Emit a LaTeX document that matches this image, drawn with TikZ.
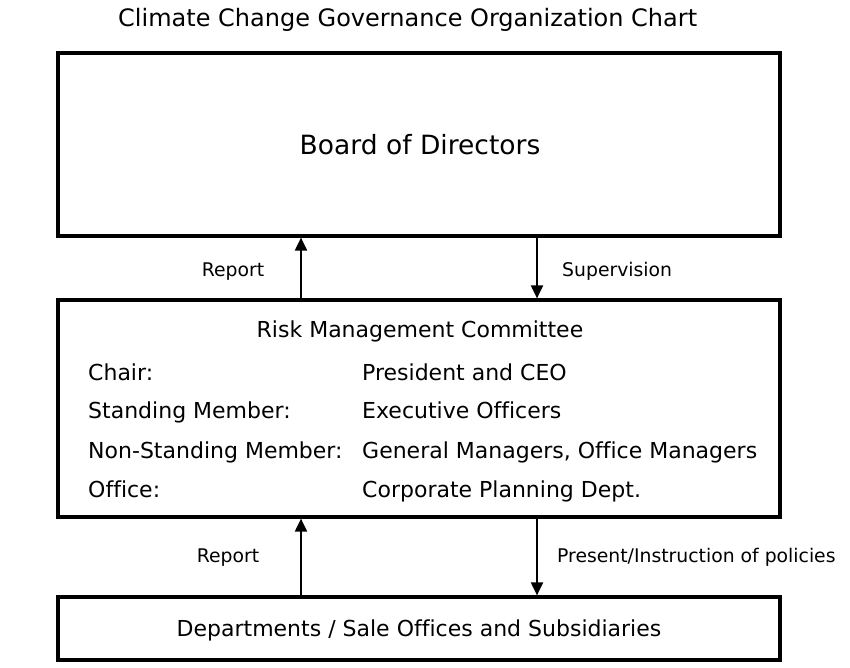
\documentclass[tikz,border=0pt]{standalone}
\usepackage{fontspec}
\setmainfont{DejaVu Sans}[Ligatures=NoCommon]
\usetikzlibrary{arrows.meta}
\begin{document}
\begin{tikzpicture}[x=1pt,y=-1pt,
  box/.style={draw=black,line width=3.2pt,inner sep=0pt},
  conn/.style={line width=2pt,-{Triangle[length=13pt,width=12pt]}},
  lbl/.style={font=\fontsize{18.8}{22}\selectfont,inner sep=0pt},
  row/.style={font=\fontsize{22}{26}\selectfont,inner sep=0pt,anchor=base west}]
\useasboundingbox (0,0) rectangle (850,668);
\node[font=\fontsize{24}{28}\selectfont,anchor=base west,inner sep=0pt] (title) at (118,26.5) {Climate Change Governance Organization Chart};
\node[box,minimum width=722pt,minimum height=183pt] (board) at (419,144.5) {};
\node[font=\fontsize{26.5}{30}\selectfont,anchor=base,inner sep=0pt] (boardt) at (420,155) {Board of Directors};
\node[box,minimum width=722pt,minimum height=217pt] (rmc) at (419,408.5) {};
\node[box,minimum width=722pt,minimum height=63pt] (dept) at (419,628.5) {};
\node[font=\fontsize{22}{26}\selectfont,anchor=base,inner sep=0pt] (deptt) at (419,636) {Departments / Sale Offices and Subsidiaries};
\node[font=\fontsize{22}{26}\selectfont,anchor=base,inner sep=0pt] (rmct) at (420,337) {Risk Management Committee};
\node[row] (r1a) at (88,380) {Chair:};
\node[row] (r1b) at (362,380) {President and CEO};
\node[row] (r2a) at (88,418) {Standing Member:};
\node[row] (r2b) at (362,418) {Executive Officers};
\node[row] (r3a) at (88,458) {Non-Standing Member:};
\node[row] (r3b) at (362,458) {General Managers, Office Managers};
\node[row] (r4a) at (88,497) {Office:};
\node[row] (r4b) at (362,497) {Corporate Planning Dept.};
\draw[conn] (rmc.north -| 301,0) -- (board.south -| 301,0);
\draw[conn] (board.south -| 537,0) -- (rmc.north -| 537,0);
\draw[conn] (dept.north -| 301,0) -- (rmc.south -| 301,0);
\draw[conn] (rmc.south -| 537,0) -- (dept.north -| 537,0);
\node[lbl,anchor=base] (l1) at (233,276) {Report};
\node[lbl,anchor=base west] (l2) at (562,276) {Supervision};
\node[lbl,anchor=base] (l3) at (228,562) {Report};
\node[lbl,anchor=base west] (l4) at (557,562) {Present/Instruction of policies};
\end{tikzpicture}
\end{document}
